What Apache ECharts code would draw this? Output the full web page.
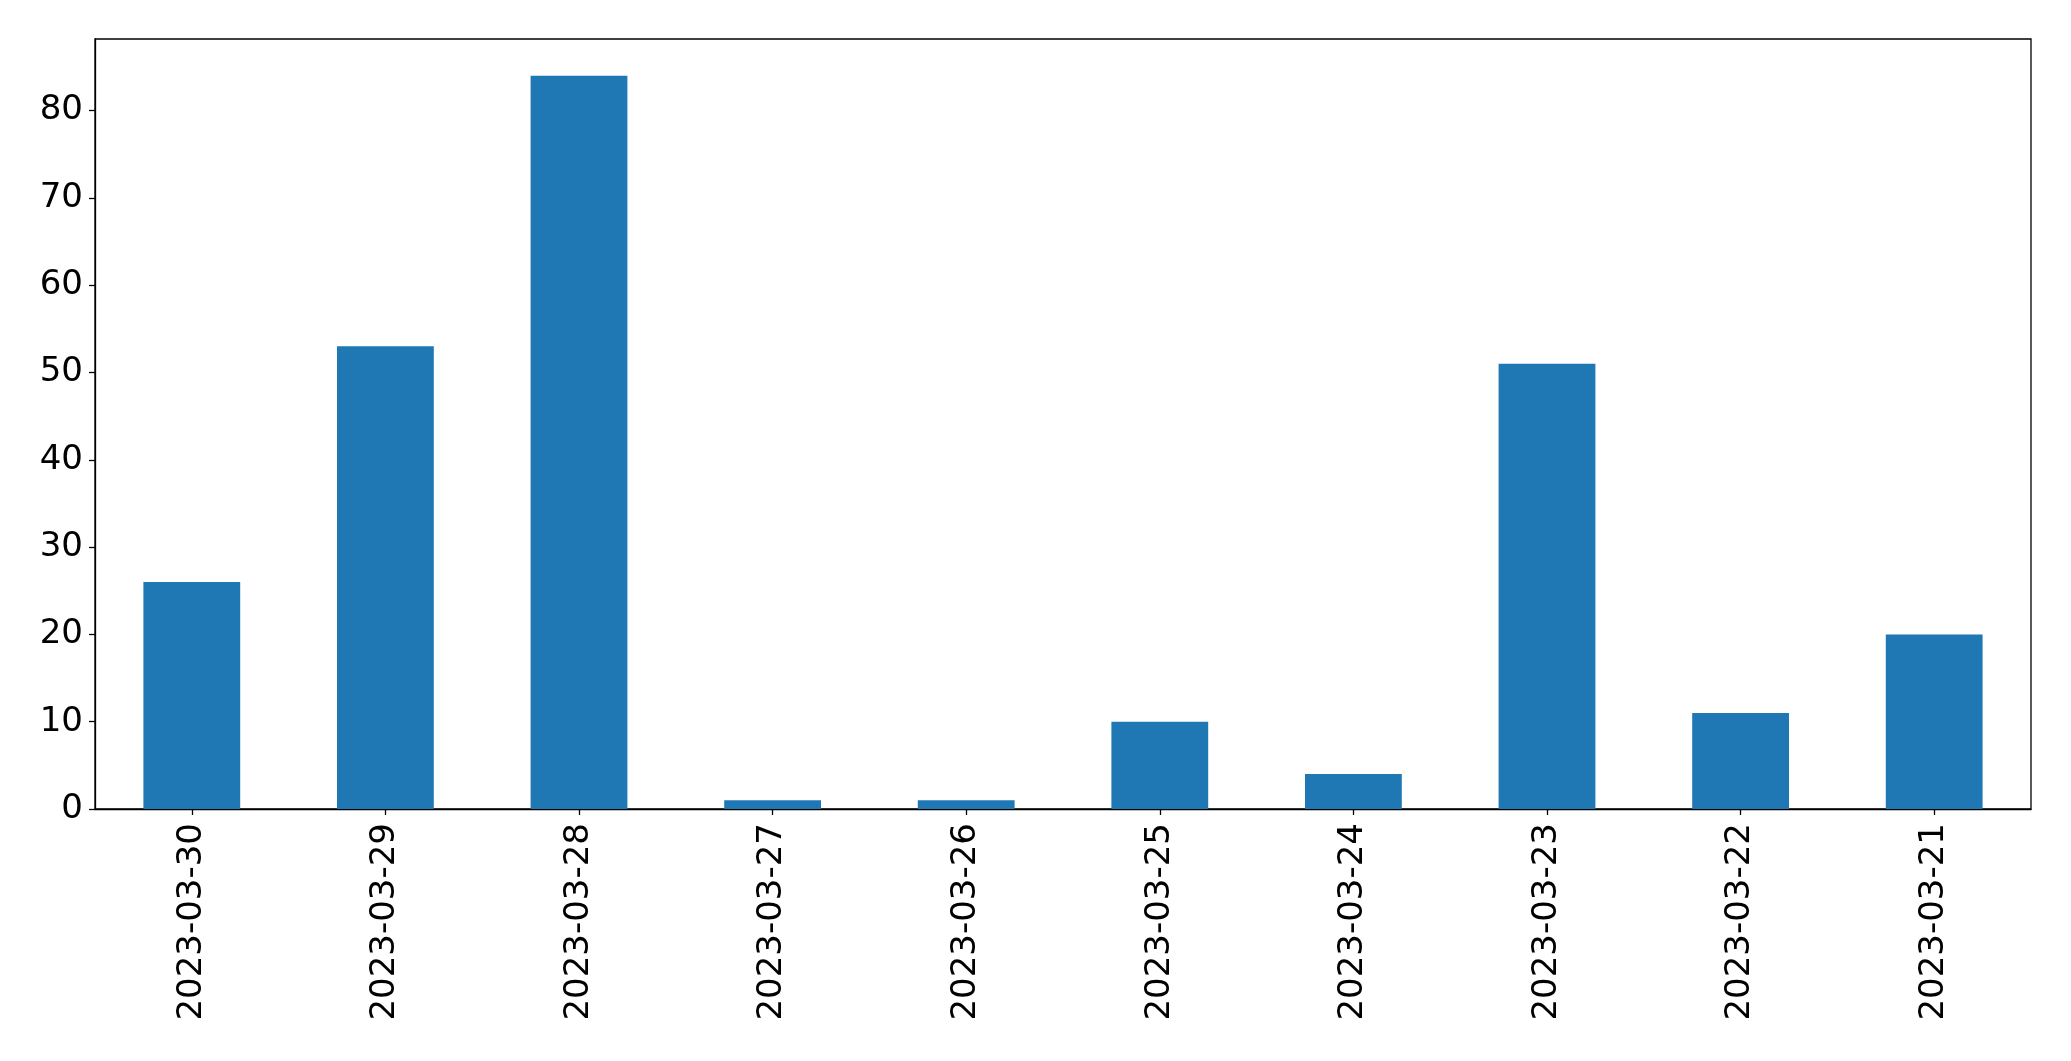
<!DOCTYPE html>
<html>
<head>
<meta charset="utf-8">
<script src="https://cdn.jsdelivr.net/npm/echarts@6/dist/echarts.min.js"></script>
<style>html,body{margin:0;padding:0;background:#fff}#c{width:2071px;height:1061px}</style>
</head>
<body>
<div id="c"></div>
<script>
const categories = ["2023-03-30","2023-03-29","2023-03-28","2023-03-27","2023-03-26","2023-03-25","2023-03-24","2023-03-23","2023-03-22","2023-03-21"];
const values = [26, 53, 84, 1, 1, 10, 4, 51, 11, 20];
const yTicks = [0, 10, 20, 30, 40, 50, 60, 70, 80];

const chart = echarts.init(document.getElementById('c'), null, {renderer: 'canvas'});
const font = 'DejaVu Sans';
chart.setOption({
  animation: false,
  backgroundColor: '#fff',
  grid: {left: 95, right: 40, top: 39, height: 770, show: true, borderColor: '#000', borderWidth: 1.3, backgroundColor: 'transparent'},
  xAxis: {
    type: 'category',
    data: categories,
    boundaryGap: true,
    axisLine: {show: true, lineStyle: {color: '#000', width: 1.3}},
    axisTick: {show: true, alignWithLabel: true, length: 6, lineStyle: {color: '#000', width: 1.3}},
    axisLabel: {rotate: 90, fontFamily: font, fontSize: 34, color: '#000', margin: 14, interval: 0},
    splitLine: {show: false}
  },
  yAxis: {
    type: 'value',
    min: 0, max: 88.2,
    axisLine: {show: true, lineStyle: {color: '#000', width: 1.3}},
    axisTick: {show: true, length: 6, lineStyle: {color: '#000', width: 1.3}, customValues: yTicks},
    axisLabel: {fontFamily: font, fontSize: 34, color: '#000', margin: 12, customValues: yTicks},
    splitLine: {show: false}
  },
  series: [{
    type: 'bar',
    data: values,
    barWidth: '50%',
    itemStyle: {color: '#1f77b4'}
  }]
});
</script>
</body>
</html>
